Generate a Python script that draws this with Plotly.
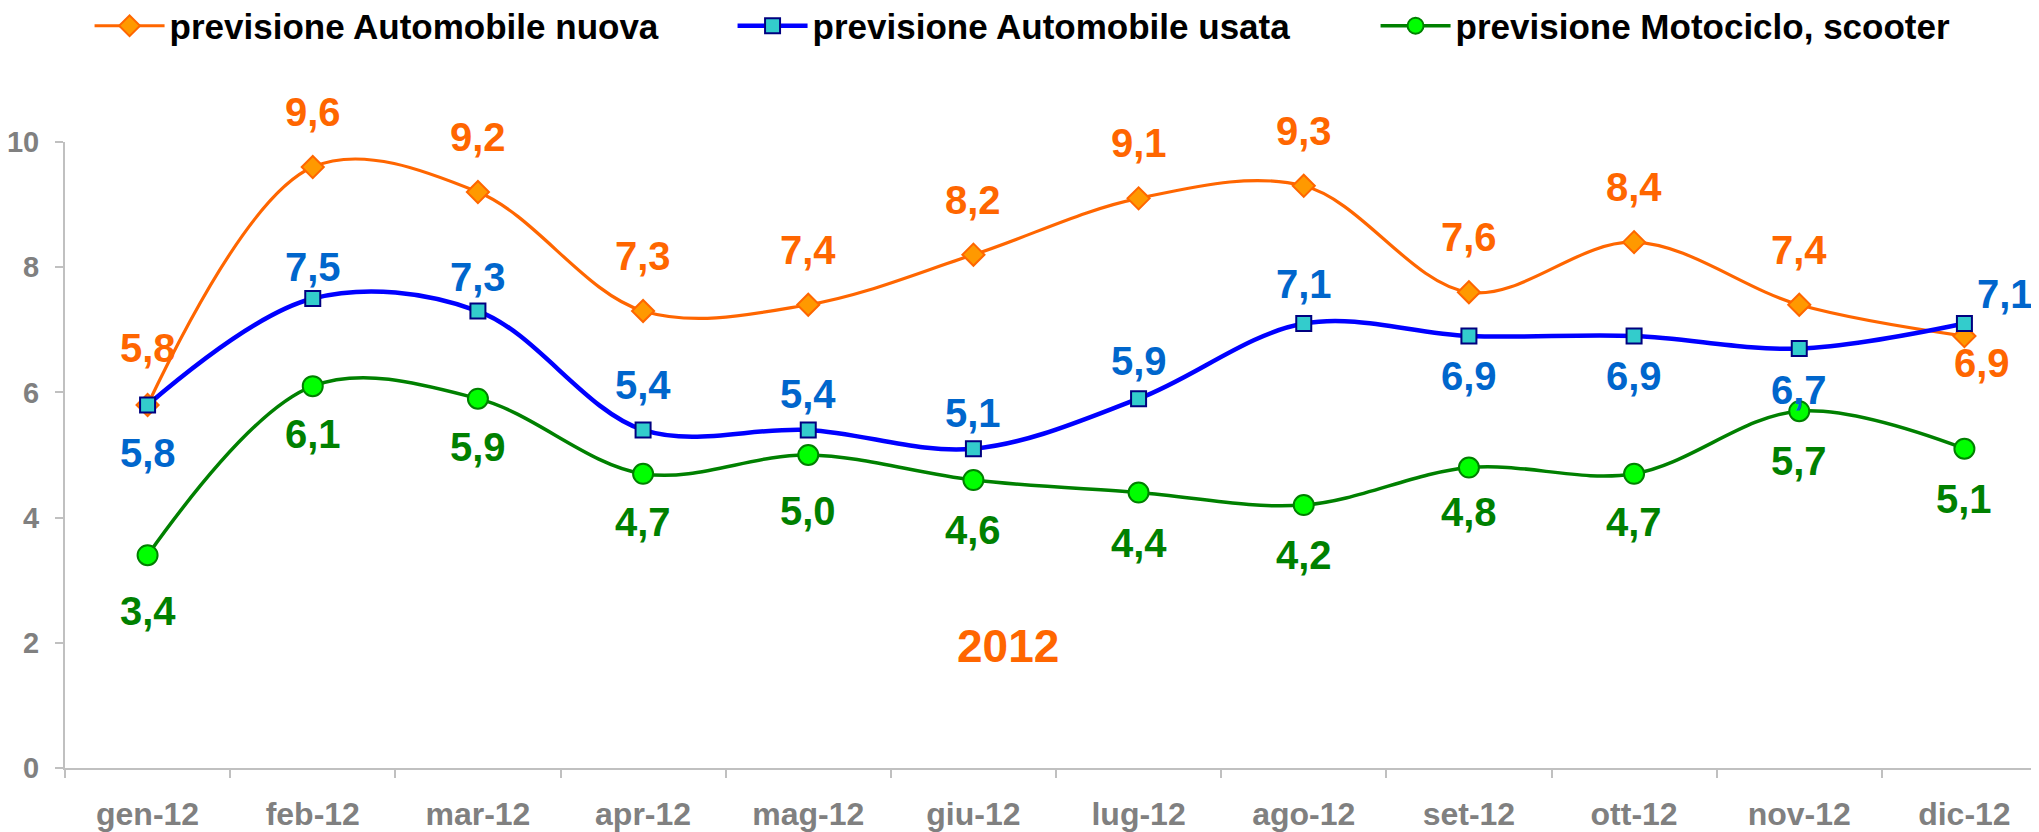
import plotly.graph_objects as go

months = ["gen-12", "feb-12", "mar-12", "apr-12", "mag-12", "giu-12",
          "lug-12", "ago-12", "set-12", "ott-12", "nov-12", "dic-12"]
auto_nuova = [5.8, 9.6, 9.2, 7.3, 7.4, 8.2, 9.1, 9.3, 7.6, 8.4, 7.4, 6.9]
auto_usata = [5.8, 7.5, 7.3, 5.4, 5.4, 5.1, 5.9, 7.1, 6.9, 6.9, 6.7, 7.1]
moto_scooter = [3.4, 6.1, 5.9, 4.7, 5.0, 4.6, 4.4, 4.2, 4.8, 4.7, 5.7, 5.1]
y_ticks = [0, 2, 4, 6, 8, 10]
year_label = "2012"

FONT = "Arial, Liberation Sans, sans-serif"

# label placement per point: (xshift, yshift)
nuova_pos = [(0, 57)] + [(0, 55)] * 10 + [(18, -27)]
usata_pos = [(0, -48), (0, 32), (0, 34), (0, 45), (0, 36), (0, 36), (0, 38), (0, 40),
             (0, -40), (0, -40), (0, -41), (41, 30)]
moto_pos = [(0, -56), (0, -48), (0, -48), (0, -48), (0, -56), (0, -50), (0, -50),
            (0, -50), (0, -44), (0, -48), (0, -50), (0, -50)]

series = [
    dict(name="previsione Automobile nuova", y=auto_nuova, line="#FF6600", lw=3.2,
         symbol="diamond", size=17, fill="#FF9900", border="#FF6600", txt="#FF6600",
         pos=nuova_pos),
    dict(name="previsione Automobile usata", y=auto_usata, line="#0000FF", lw=4.5,
         symbol="square", size=15, fill="#33CCCC", border="#000080", txt="#0066CC",
         pos=usata_pos),
    dict(name="previsione Motociclo, scooter", y=moto_scooter, line="#008000", lw=3.5,
         symbol="circle", size=20, fill="#00FF00", border="#008000", txt="#008000",
         pos=moto_pos),
]

fig = go.Figure()
annotations = []
for s in series:
    fig.add_trace(go.Scatter(
        x=months, y=s["y"], name=s["name"], mode="lines+markers",
        line=dict(color=s["line"], width=s["lw"], shape="spline", smoothing=1.0),
        marker=dict(symbol=s["symbol"], size=s["size"], color=s["fill"],
                    line=dict(color=s["border"], width=2)),
        cliponaxis=False,
    ))
    for m, v, (dx, dy) in zip(months, s["y"], s["pos"]):
        annotations.append(dict(
            x=m, y=v, xref="x", yref="y", text=f"{v:.1f}".replace(".", ","),
            showarrow=False, xshift=dx, yshift=dy, xanchor="center", yanchor="middle",
            font=dict(family=FONT, size=40, color=s["txt"], weight="bold"),
        ))

annotations.append(dict(
    x=0.476, y=0.195, xref="paper", yref="paper", text=year_label, showarrow=False,
    xanchor="center", yanchor="middle",
    font=dict(family=FONT, size=46, color="#FF6600", weight="bold"),
))

# the page body adds an 8px offset; margins compensate for it
fig.update_layout(
    width=2039, height=832,
    margin=dict(l=57, r=0, t=134, b=72, autoexpand=False),
    paper_bgcolor="white", plot_bgcolor="white",
    showlegend=True,
    legend=dict(
        orientation="h", x=0.04, y=1 - 18 / 832, xref="container", yref="container",
        xanchor="left", yanchor="middle",
        font=dict(family=FONT, size=35, color="black", weight="bold"),
        itemwidth=70, entrywidth=558, entrywidthmode="pixels",
        bgcolor="rgba(0,0,0,0)",
    ),
    annotations=annotations,
    xaxis=dict(
        type="category", range=[-0.5, 11.5], showgrid=False, automargin=False,
        showline=True, linecolor="#C0C0C0", linewidth=2,
        ticks="outside", tickson="boundaries", ticklen=8, tickcolor="#C0C0C0",
        tickwidth=2, ticklabelstandoff=17,
        tickfont=dict(family=FONT, size=32, color="#808080", weight="bold"),
    ),
    yaxis=dict(
        range=[0, 10], tickvals=y_ticks, showgrid=False, zeroline=False,
        automargin=False,
        showline=True, linecolor="#C0C0C0", linewidth=2,
        ticks="outside", ticklen=8, tickcolor="#C0C0C0", tickwidth=2,
        ticklabelstandoff=10,
        tickfont=dict(family=FONT, size=29, color="#808080", weight="bold"),
    ),
)

fig.write_html("out.html")
